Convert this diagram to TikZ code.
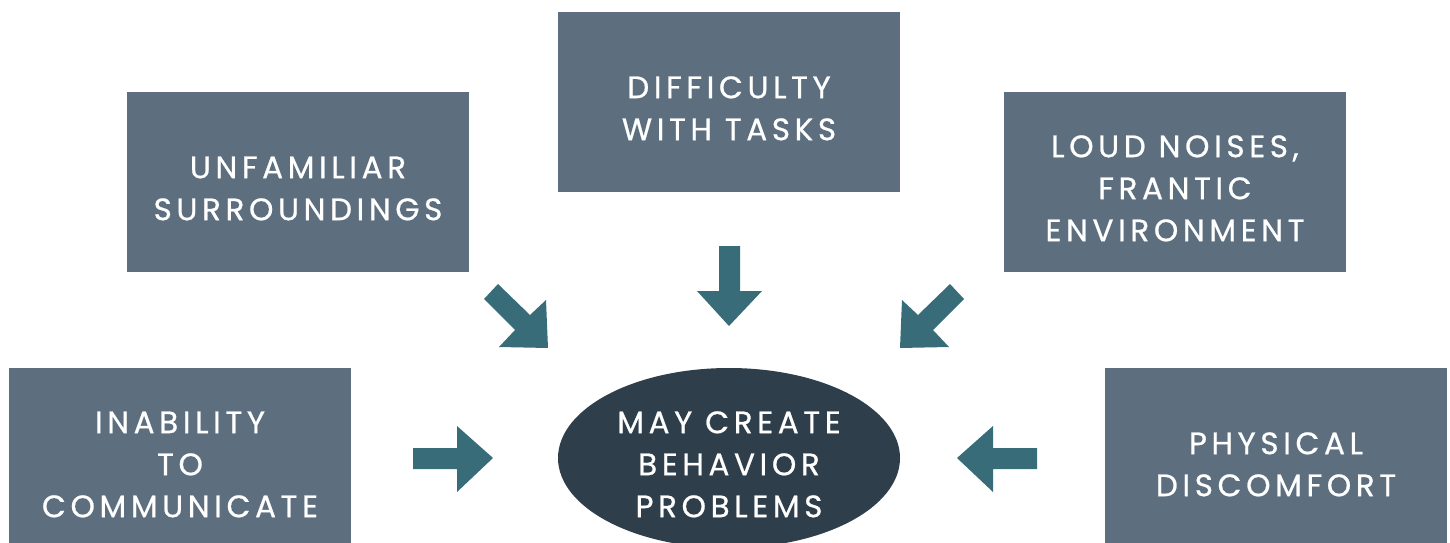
\documentclass[tikz,border=0pt]{standalone}
\usepackage{fontspec}
\setmainfont{Poppins}[LetterSpace=15,FakeBold=0.7]
\usetikzlibrary{shapes.geometric}
\definecolor{boxc}{HTML}{5D6F7F}
\definecolor{ellc}{HTML}{2E3E4A}
\definecolor{arrc}{HTML}{376C78}
\newcommand{\boxlines}[1]{\raisebox{-15pt}[0pt][0pt]{\begin{tabular}{@{}c@{}}#1\end{tabular}}}
\tikzset{
  cause/.style={rectangle, fill=boxc, text=white, minimum width=342pt, minimum height=180pt,
    inner sep=0pt, font=\fontsize{31}{42}\selectfont},
  effect/.style={ellipse, fill=ellc, text=white, minimum width=342pt, minimum height=180pt,
    inner sep=0pt, font=\fontsize{31}{42}\selectfont},
  blockarrow/.style={fill=arrc, draw=none}
}
\begin{document}
\begin{tikzpicture}[x=1pt,y=-1pt]
\useasboundingbox (0,0) rectangle (1450,543);
\clip (0,0) rectangle (1450,543);
\node[cause] (unf) at (298,182) {\boxlines{UNFAMILIAR\\SURROUNDINGS}};
\node[cause] (dif) at (729,102) {\boxlines{DIFFICULTY\\WITH TASKS}};
\node[cause] (loud) at (1175,182) {\boxlines{LOUD NOISES,\\FRANTIC\\ENVIRONMENT}};
\node[cause] (inab) at (180,458) {\boxlines{INABILITY\\TO\\COMMUNICATE}};
\node[cause] (phys) at (1276,458) {\boxlines{PHYSICAL\\DISCOMFORT}};
\node[effect] (may) at (729,458) {\boxlines{MAY CREATE\\BEHAVIOR\\PROBLEMS}};
% block arrows
\fill[blockarrow] (719,246) -- (740,246) -- (740,291) -- (762,291) -- (729,326) -- (697,291) -- (719,291) -- cycle;
\fill[blockarrow] (413,448) -- (457,448) -- (457,426) -- (493,458) -- (457,492) -- (457,469) -- (413,469) -- cycle;
\fill[blockarrow] (1037,448) -- (993,448) -- (993,426) -- (957,458) -- (993,492) -- (993,469) -- (1037,469) -- cycle;
\fill[blockarrow] (498,284) -- (530,315) -- (546,300) -- (548,348) -- (499,347) -- (515,330) -- (484,299) -- cycle;
\fill[blockarrow] (950,284) -- (918,315) -- (902,300) -- (900,348) -- (949,347) -- (933,330) -- (964,299) -- cycle;
\end{tikzpicture}
\end{document}
